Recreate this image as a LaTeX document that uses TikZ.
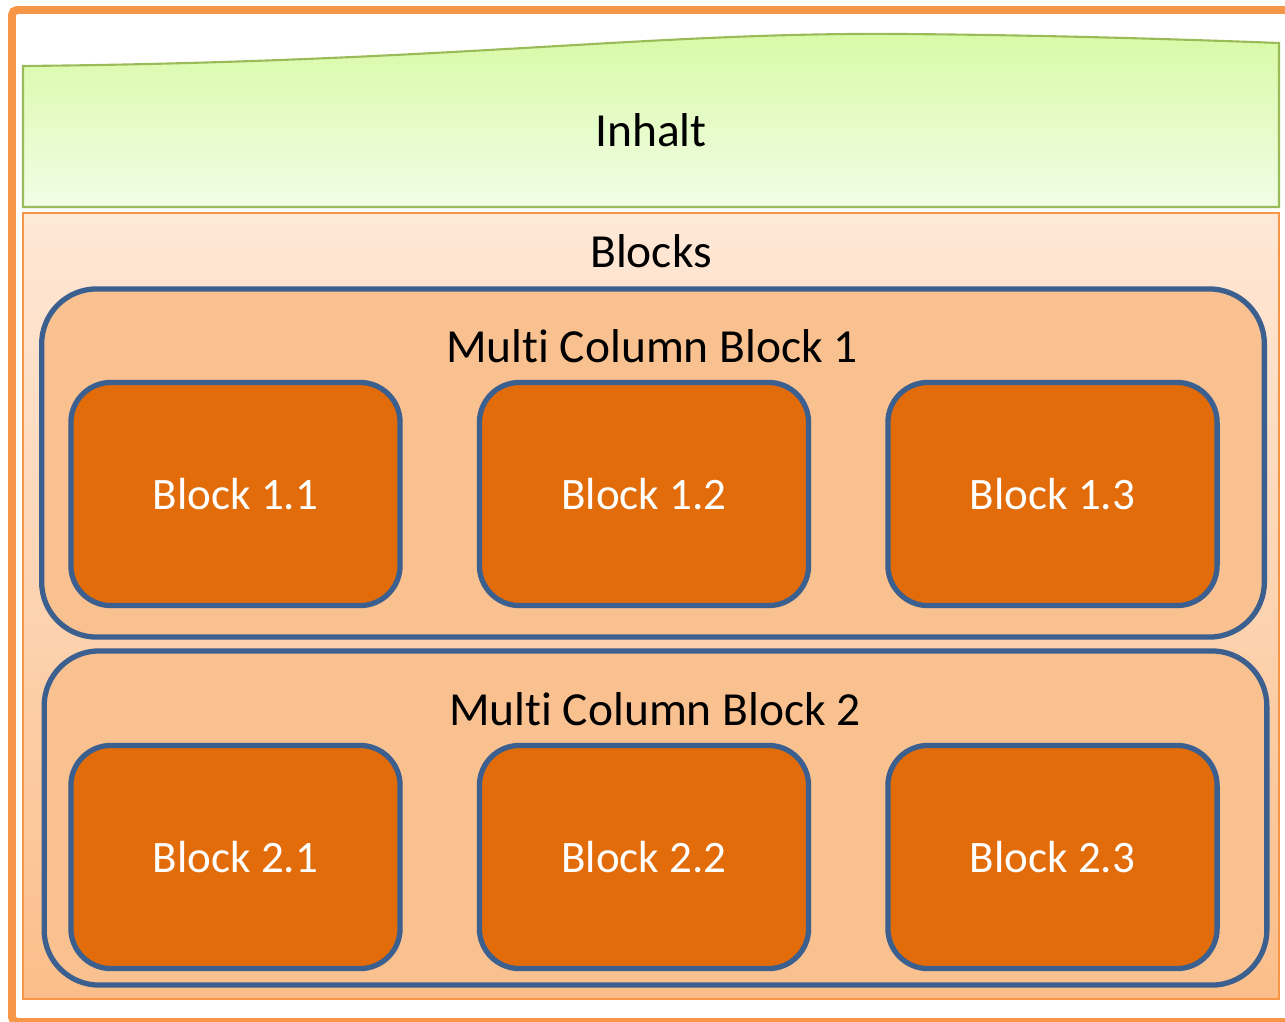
\documentclass[tikz,border=0pt]{standalone}
\usepackage{fontspec}
\setmainfont[Ligatures=NoCommon]{Carlito}
\usepackage{tikz}
\usetikzlibrary{positioning,calc,shapes}
\definecolor{rahmen}{HTML}{F79646}
\definecolor{gruenlinie}{HTML}{9BBB59}
\definecolor{gruenoben}{HTML}{D8FAA6}
\definecolor{gruenunten}{HTML}{F1FDE6}
\definecolor{blocksoben}{HTML}{FEE8D7}
\definecolor{blocksunten}{HTML}{FBBE8A}
\definecolor{multifill}{HTML}{F9C190}
\definecolor{blaulinie}{HTML}{3B5F8E}
\definecolor{blockfill}{HTML}{E36C0A}
\tikzstyle{titel}=[font=\fontsize{13.5}{16}\selectfont, anchor=base, inner sep=0pt]
\tikzstyle{multiblock}=[draw=blaulinie, line width=1.5pt, fill=multifill, rounded corners=0.55cm, minimum width=12.22cm]
\tikzstyle{blockbox}=[draw=blaulinie, line width=1.5pt, fill=blockfill, rounded corners=0.4cm, minimum width=3.29cm, minimum height=2.23cm, text=white, font=\fontsize{12.8}{15}\selectfont]

\begin{document}
\begin{tikzpicture}[x=0.01cm, y=-0.01cm]
\useasboundingbox (0,0) rectangle (1285,1021);

% rahmen
\draw[rahmen, line width=2.27pt, rounded corners=0.05cm] (12,10) rectangle (1320,1022);

% inhalt
\draw[gruenlinie, line width=0.6pt, top color=gruenoben, bottom color=gruenunten]
  (23,207) -- (23,66) .. controls (450,62) and (650,32) .. (900,34)
  .. controls (1050,35) and (1200,40) .. (1279,43) -- (1279,207) -- cycle;
\node[titel] (inhalt) at (651,146) {Inhalt};

% blocks
\draw[rahmen, line width=0.6pt, top color=blocksoben, bottom color=blocksunten] (23,213) rectangle (1279,999);
\node[titel] (blocks) at (651,267) {Blocks};

% multi column block 1
\node[multiblock, minimum height=3.48cm] (mcb1) at (653,463) {};
\node[titel] (mcb1titel) at (652,362) {Multi Column Block 1};
\node[blockbox] (b11) at (235.5,494) {Block 1.1};
\node[blockbox] (b12) at (644,494) {Block 1.2};
\node[blockbox] (b13) at (1052.5,494) {Block 1.3};

% multi column block 2
\node[multiblock, minimum height=3.34cm] (mcb2) at (655.5,818) {};
\node[titel] (mcb2titel) at (655,725) {Multi Column Block 2};
\node[blockbox] (b21) at (235.5,857) {Block 2.1};
\node[blockbox] (b22) at (644,857) {Block 2.2};
\node[blockbox] (b23) at (1052.5,857) {Block 2.3};

\end{tikzpicture}
\end{document}
